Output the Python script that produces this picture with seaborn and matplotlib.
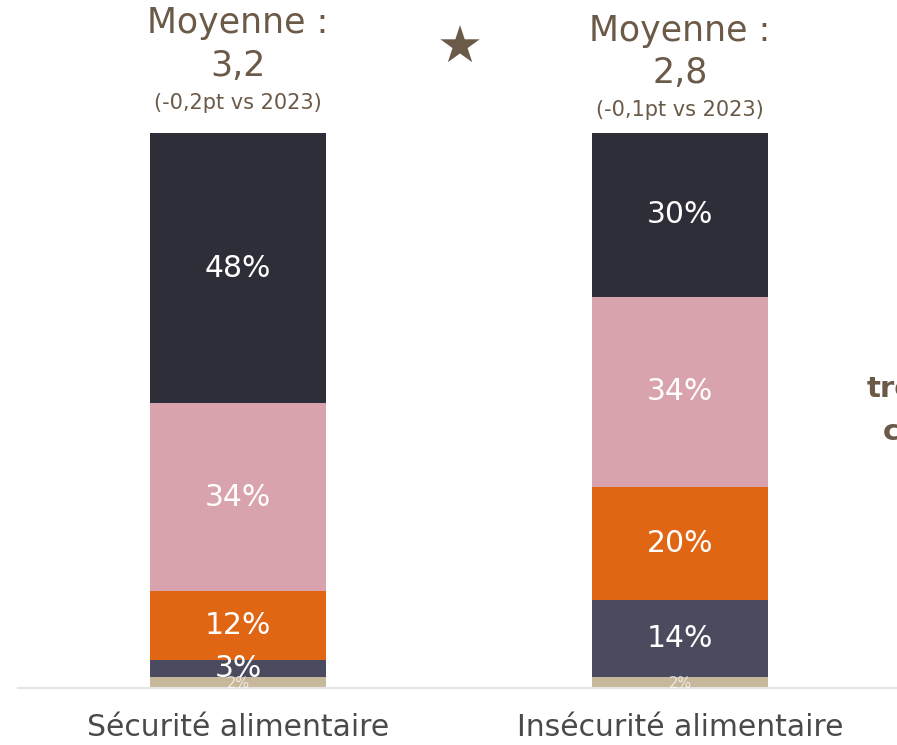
import matplotlib
matplotlib.use("Agg")
import matplotlib.pyplot as plt
import matplotlib.transforms as mtransforms
import seaborn as sns
import numpy as np

categories = ["Sécurité alimentaire", "Insécurité alimentaire"]
# segments from bottom to top
layer_names = ["1", "2", "3", "4", "5"]
values_secu = [2.0, 3.0, 12.4, 33.9, 48.7]
values_insecu = [2.0, 13.9, 20.4, 34.2, 29.5]
labels_secu = ["2%", "3%", "12%", "34%", "48%"]
labels_insecu = ["2%", "14%", "20%", "34%", "30%"]
colors = ["#c8b89b", "#4b4b5f", "#e06614", "#d9a3ad", "#2e2e38"]
mean_heads = ["Moyenne :", "Moyenne :"]
mean_values = ["3,2", "2,8"]
mean_subtitles = ["(-0,2pt vs 2023)", "(-0,1pt vs 2023)"]

BROWN = "#6b5a48"

sns.set_theme(style="white")
plt.rcParams["font.family"] = ["DejaVu Sans"]

W, H = 897, 745
fig = plt.figure(figsize=(W / 100, H / 100), dpi=100)
ax = fig.add_axes([18 / W, 1 - 688 / H, 1 - 18 / W, 555 / H])

vals = np.array([values_secu, values_insecu])  # shape (2,5)
cum = np.cumsum(vals, axis=1)

# draw cumulative bars from top layer to bottom
for i in range(len(layer_names) - 1, -1, -1):
    sns.barplot(x=categories, y=cum[:, i], color=colors[i], saturation=1,
                width=0.4, linewidth=0, ax=ax, order=categories)

ax.set_ylim(0, 100)
ax.set_xlim(-0.4977, 1.491)

labels = [labels_secu, labels_insecu]
for j in range(2):
    bottoms = np.concatenate([[0], cum[j, :-1]])
    for i in range(len(layer_names)):
        mid = bottoms[i] + vals[j, i] / 2
        if i == 0:
            ax.text(j, mid - 0.2, labels[j][i], ha="center", va="center",
                    color="white", alpha=0.7, fontsize=10.5, clip_on=False)
        else:
            ax.text(j, mid, labels[j][i], ha="center", va="center",
                    color="white", fontsize=21.5)

# titles above bars
trans = mtransforms.blended_transform_factory(ax.transData, fig.transFigure)
head_y = [23, 31]
val_y = [66, 73]
sub_y = [103, 110]
for j in range(2):
    ax.text(j, 1 - head_y[j] / H, mean_heads[j], transform=trans,
            ha="center", va="center", fontsize=25, color=BROWN)
    ax.text(j, 1 - val_y[j] / H, mean_values[j], transform=trans,
            ha="center", va="center", fontsize=25, color=BROWN)
    ax.text(j, 1 - sub_y[j] / H, mean_subtitles[j], transform=trans,
            ha="center", va="center", fontsize=15, color=BROWN)

fig.text(460 / W, 1 - 49 / H, "★", ha="center", va="center",
         fontsize=37, color=BROWN)

# clipped right-side text
fig.text(867 / W, 1 - 389 / H, "très", ha="left", va="center",
         fontsize=21, fontweight="bold", color=BROWN)
fig.text(883 / W, 1 - 432 / H, "confiance", ha="left", va="center",
         fontsize=21, fontweight="bold", color=BROWN)

for s in ["top", "right", "left"]:
    ax.spines[s].set_visible(False)
ax.spines["bottom"].set_color("#e4e4e4")
ax.spines["bottom"].set_linewidth(1.5)
ax.set_yticks([])
ax.set_ylabel("")
ax.tick_params(axis="x", length=0, pad=18, labelsize=21.5, labelcolor="#4a4a4a")
ax.patch.set_alpha(0)

fig.savefig("out.png", dpi=100)
